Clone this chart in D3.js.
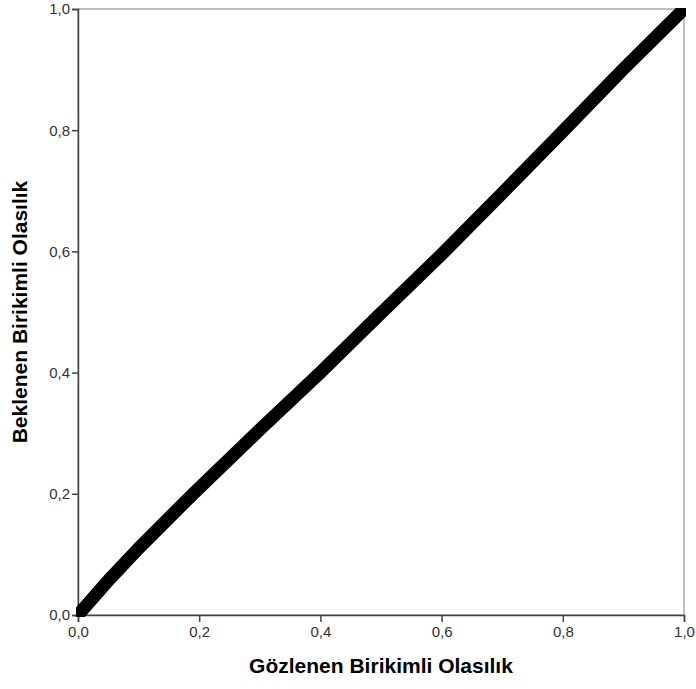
<!DOCTYPE html>
<html>
<head>
<meta charset="utf-8">
<script src="https://cdn.jsdelivr.net/npm/d3@7"></script>
<style>
  html, body { margin: 0; padding: 0; background: #fff; }
  svg { display: block; }
</style>
</head>
<body>
<svg id="chart" width="696" height="689"></svg>
<script>
// Normal P-P plot: observed vs expected cumulative probability
const observedCum = [0, 0.05, 0.10, 0.19, 0.30, 0.40, 0.50, 0.60, 0.70, 0.80, 0.90, 1.0];
const expectedCum = [0, 0.057, 0.110, 0.200, 0.306, 0.400, 0.498, 0.595, 0.696, 0.798, 0.901, 1.0];
const tickValues = [0, 0.2, 0.4, 0.6, 0.8, 1.0];
const xTitle = "Gözlenen Birikimli Olasılık";
const yTitle = "Beklenen Birikimli Olasılık";

(function draw() {
  const svg = d3.select("#chart");
  const pLeft = 78, pRight = 684, pTop = 9, pBottom = 615;

  const x = d3.scaleLinear().domain([0, 1]).range([pLeft, pRight]);
  const y = d3.scaleLinear().domain([0, 1]).range([pBottom, pTop]);
  const fmt = d => d3.format(".1f")(d).replace(".", ",");
  const font = "Liberation Sans, Arial, sans-serif";

  // frame
  svg.append("rect")
    .attr("x", pLeft).attr("y", pTop)
    .attr("width", pRight - pLeft).attr("height", pBottom - pTop)
    .attr("fill", "none").attr("stroke", "#9a9a9a").attr("stroke-width", 1.3);

  // axes
  const xAxis = svg.append("g")
    .attr("transform", `translate(0,${pBottom})`)
    .call(d3.axisBottom(x).tickValues(tickValues).tickFormat(fmt).tickSizeOuter(0).tickSize(7).tickPadding(4));
  const yAxis = svg.append("g")
    .attr("transform", `translate(${pLeft},0)`)
    .call(d3.axisLeft(y).tickValues(tickValues).tickFormat(fmt).tickSizeOuter(0).tickSize(6).tickPadding(2));

  [xAxis, yAxis].forEach(a => {
    a.select(".domain").attr("stroke", "#444").attr("stroke-width", 1.5);
    a.selectAll(".tick line").attr("stroke", "#444").attr("stroke-width", 1.5);
    a.selectAll(".tick text")
      .attr("fill", "#333")
      .attr("font-family", font)
      .attr("font-size", 15);
  });

  // data line, clipped to the plot frame
  svg.append("clipPath").attr("id", "plotClip")
    .append("rect")
    .attr("x", pLeft - 2).attr("y", pTop - 1)
    .attr("width", pRight - pLeft + 4).attr("height", pBottom - pTop + 3);

  const pts = observedCum.map((o, i) => [o, expectedCum[i]]);
  svg.append("path")
    .datum(pts)
    .attr("clip-path", "url(#plotClip)")
    .attr("fill", "none")
    .attr("stroke", "#000")
    .attr("stroke-width", 13)
    .attr("stroke-linecap", "square")
    .attr("stroke-linejoin", "round")
    .attr("d", d3.line().x(d => x(d[0])).y(d => y(d[1])));

  // axis titles
  svg.append("text")
    .attr("x", (pLeft + pRight) / 2).attr("y", 673)
    .attr("text-anchor", "middle")
    .attr("font-family", font)
    .attr("font-weight", "bold").attr("font-size", 21)
    .attr("fill", "#000")
    .text(xTitle);

  svg.append("text")
    .attr("transform", `translate(27,${(pTop + pBottom) / 2}) rotate(-90)`)
    .attr("text-anchor", "middle")
    .attr("font-family", font)
    .attr("font-weight", "bold").attr("font-size", 21)
    .attr("fill", "#000")
    .text(yTitle);
})();
</script>
</body>
</html>
